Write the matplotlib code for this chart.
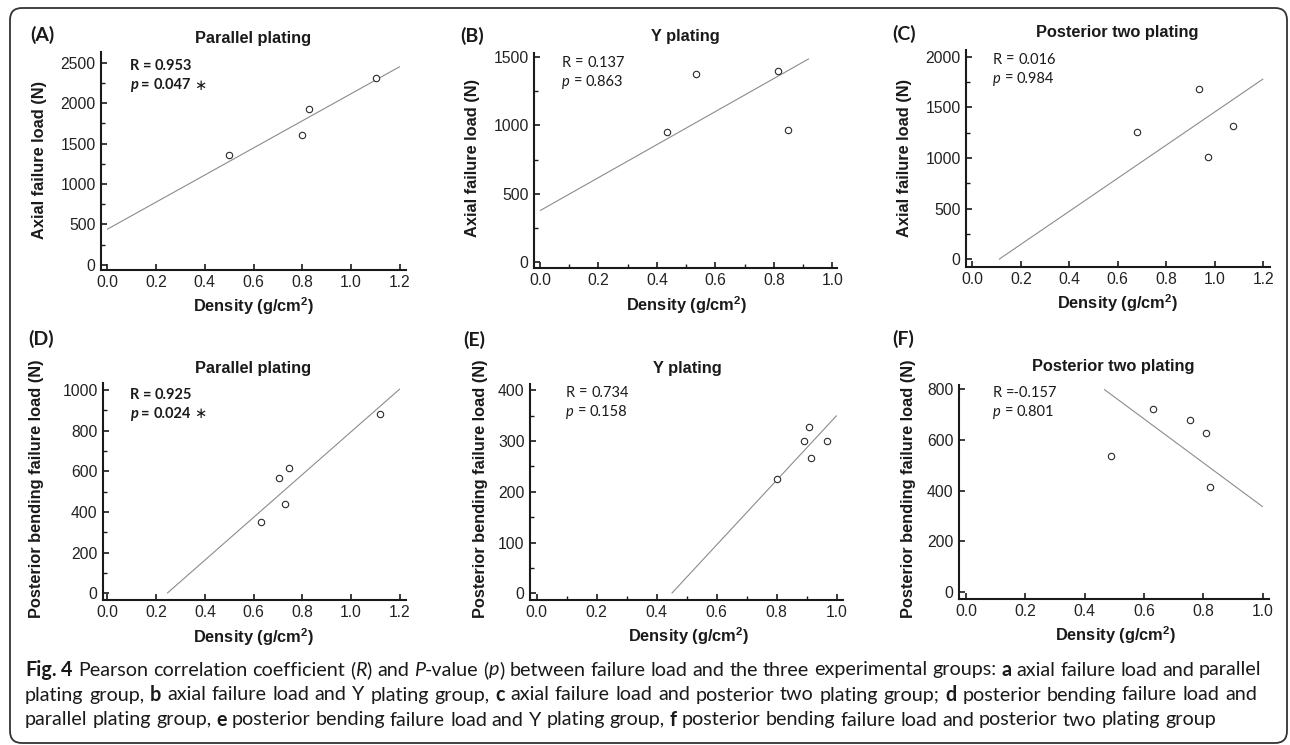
import matplotlib
matplotlib.use("Agg")
import matplotlib.pyplot as plt
from matplotlib.patches import FancyBboxPatch
from matplotlib.transforms import IdentityTransform
from matplotlib.ticker import FixedLocator, NullLocator

W, H, DPI = 1290, 745, 100

# ------------------------------------------------------------------ data
panel_labels = ["(A)", "(B)", "(C)", "(D)", "(E)", "(F)"]
titles = ["Parallel plating", "Y plating", "Posterior two plating",
          "Parallel plating", "Y plating", "Posterior two plating"]
ylabels = ["Axial failure load (N)"] * 3 + ["Posterior bending failure load (N)"] * 3
xlabel = r"Density (g/cm$^\mathbf{2}$)"

a_density = [0.50, 0.80, 0.828, 1.10]
a_load = [1352, 1601, 1920, 2312]
a_fit_x = [0.0, 1.2]
a_fit_y = [440, 2450]

b_density = [0.436, 0.534, 0.813, 0.850]
b_load = [955, 1378, 1400, 968]
b_fit_x = [0.0, 0.92]
b_fit_y = [375, 1490]

c_density = [0.678, 0.934, 0.971, 1.074]
c_load = [1257, 1676, 1006, 1315]
c_fit_x = [0.11, 1.2]
c_fit_y = [0, 1780]

d_density = [0.630, 0.705, 0.727, 0.746, 1.117]
d_load = [351, 568, 437, 617, 882]
d_fit_x = [0.245, 1.2]
d_fit_y = [0, 1005]

e_density = [0.802, 0.892, 0.909, 0.914, 0.967]
e_load = [226, 300, 327, 266, 300]
e_fit_x = [0.45, 1.0]
e_fit_y = [0, 350]

f_density = [0.488, 0.629, 0.755, 0.808, 0.822]
f_load = [538, 722, 678, 628, 413]
f_fit_x = [0.465, 1.0]
f_fit_y = [800, 336]

r_texts = ["R = 0.953", "R = 0.137", "R = 0.016", "R = 0.925", "R = 0.734", "R =-0.157"]
p_values = ["0.047", "0.863", "0.984", "0.024", "0.158", "0.801"]
significant = [True, False, False, True, False, False]

x_ticks_12 = [0.0, 0.2, 0.4, 0.6, 0.8, 1.0, 1.2]
x_ticks_10 = [0.0, 0.2, 0.4, 0.6, 0.8, 1.0]
x_minor_10 = [0.1, 0.3, 0.5, 0.7, 0.9]
a_yticks = [0, 500, 1000, 1500, 2000, 2500]
a_yminor = [250, 750, 1250, 1750, 2250]
b_yticks = [0, 500, 1000, 1500]
b_yminor = [250, 750, 1250]
c_yticks = [0, 500, 1000, 1500, 2000]
c_yminor = [250, 750, 1250, 1750]
d_yticks = [0, 200, 400, 600, 800, 1000]
d_yminor = [100, 300, 500, 700, 900]
e_yticks = [0, 100, 200, 300, 400]
e_yminor = [50, 150, 250, 350]
f_yticks = [0, 200, 400, 600, 800]

caption_lines = [
    [("Fig. 4", "b"), (" Pearson correlation coefficient (", "r"), ("R", "i"), (") and ", "r"),
     ("P", "i"), ("-value (", "r"), ("p", "i"),
     (") between failure load and the three experimental groups: ", "r"), ("a", "b"),
     (" axial failure load and parallel", "r")],
    [("plating group, ", "r"), ("b", "b"), (" axial failure load and Y plating group, ", "r"),
     ("c", "b"), (" axial failure load and posterior two plating group; ", "r"), ("d", "b"),
     (" posterior bending failure load and", "r")],
    [("parallel plating group, ", "r"), ("e", "b"),
     (" posterior bending failure load and Y plating group, ", "r"), ("f", "b"),
     (" posterior bending failure load and posterior two plating group", "r")],
]

# ------------------------------------------------------------------ styling / layout
plt.rcParams["mathtext.fontset"] = "custom"
plt.rcParams["mathtext.rm"] = "Liberation Sans"
plt.rcParams["mathtext.bf"] = "Liberation Sans:bold"
plt.rcParams["mathtext.it"] = "Liberation Sans:italic"

ARIAL = "Liberation Sans"
CAL = "Lato"
INK = "#1a1a1a"

series = [(a_density, a_load, a_fit_x, a_fit_y), (b_density, b_load, b_fit_x, b_fit_y),
          (c_density, c_load, c_fit_x, c_fit_y), (d_density, d_load, d_fit_x, d_fit_y),
          (e_density, e_load, e_fit_x, e_fit_y), (f_density, f_load, f_fit_x, f_fit_y)]
ticks = [(x_ticks_12, None, a_yticks, a_yminor), (x_ticks_10, x_minor_10, b_yticks, b_yminor),
         (x_ticks_12, None, c_yticks, c_yminor), (x_ticks_12, None, d_yticks, d_yminor),
         (x_ticks_10, x_minor_10, e_yticks, e_yminor), (x_ticks_10, None, f_yticks, None)]

# layout in pixels: axes box (left, right, top, bottom), limits, text anchors
layout = [
    dict(box=(101, 406, 52, 270), xlim=(-0.025, 1.225), ylim=(-62, 2630),
         label=(30, 35), title=(253, 38), xl=(253, 306), yl=(40, 160), ann=(130, 66)),
    dict(box=(534, 837, 53, 268), xlim=(-0.0205, 1.016), ylim=(-46, 1532),
         label=(460, 36), title=(685, 37), xl=(686, 305), yl=(473, 158), ann=(562, 63)),
    dict(box=(966, 1270, 50, 267), xlim=(-0.026, 1.228), ylim=(-76, 2065),
         label=(892, 34), title=(1117, 33), xl=(1117, 303), yl=(904, 158), ann=(993, 60)),
    dict(box=(103, 406, 383, 600), xlim=(-0.018, 1.225), ylim=(-33, 1034),
         label=(28, 339), title=(253, 368), xl=(253, 637), yl=(37, 489), ann=(130, 395)),
    dict(box=(530, 843, 384, 600), xlim=(-0.022, 1.021), ylim=(-13, 412),
         label=(463, 340), title=(687, 368), xl=(688, 636), yl=(480, 489), ann=(566, 393)),
    dict(box=(959, 1269, 385, 599), xlim=(-0.024, 1.021), ylim=(-28, 817),
         label=(892, 339), title=(1113, 367), xl=(1115, 635), yl=(908, 489), ann=(993, 393)),
]

fig = plt.figure(figsize=(W / DPI, H / DPI), dpi=DPI)
fig.patch.set_facecolor("white")
renderer = fig.canvas.get_renderer()


def fx(px):
    return px / W


def fy(py):
    return 1 - py / H


_cache = {}


def text_width(s, size, props):
    key = (s, size, tuple(sorted(props.items())))
    if key not in _cache:
        t = fig.text(0, 0, "x" + s + "x", fontsize=size, **props)
        w1 = t.get_window_extent(renderer).width
        t.set_text("xx")
        w2 = t.get_window_extent(renderer).width
        t.remove()
        _cache[key] = w1 - w2
    return _cache[key]


def style_props(code, family):
    if code == "b":
        return dict(family=family, fontweight="bold")
    if code == "i":
        return dict(family=family, fontstyle="italic")
    if code == "s":
        return dict(family="DejaVu Sans")
    return dict(family=family)


def draw_runs(x, y, runs, size, family, color=INK, right=None):
    tokens = []
    for text, code in runs:
        props = style_props(code, family)
        parts = text.split(" ")
        for k, part in enumerate(parts):
            if k > 0:
                tokens.append((" ", props))
            if part:
                tokens.append((part, props))
    widths = [text_width(s, size, p) for s, p in tokens]
    extra = 0.0
    nsp = sum(1 for s, _ in tokens if s == " ")
    if right is not None and nsp:
        extra = (right - x - sum(widths)) / nsp
    cur = x
    for (s, p), w in zip(tokens, widths):
        if s == " ":
            cur += w + extra
            continue
        fig.text(fx(cur), fy(y), s, fontsize=size, va="center", ha="left", color=color, **p)
        cur += w


for i in range(6):
    cfg = layout[i]
    dens, load, fitx, fity = series[i]
    xt, xm, yt, ym = ticks[i]
    l, r, t, b = cfg["box"]
    ax = fig.add_axes([fx(l), fy(b), (r - l) / W, (b - t) / H])
    ax.patch.set_alpha(0)
    ax.plot(fitx, fity, color="#8c8c8c", lw=0.8, solid_capstyle="butt")
    ax.plot(dens, load, "o", mfc="white", mec="#2a2a2a", ms=4.6, mew=0.8, clip_on=False)
    ax.set_xlim(*cfg["xlim"])
    ax.set_ylim(*cfg["ylim"])
    ax.xaxis.set_major_locator(FixedLocator(xt))
    ax.set_xticklabels([f"{v:.1f}" for v in xt])
    ax.yaxis.set_major_locator(FixedLocator(yt))
    ax.set_yticklabels([f"{v:d}" for v in yt])
    ax.xaxis.set_minor_locator(FixedLocator(xm) if xm else NullLocator())
    ax.yaxis.set_minor_locator(FixedLocator(ym) if ym else NullLocator())
    for side in ("top", "right"):
        ax.spines[side].set_visible(False)
    for side in ("left", "bottom"):
        ax.spines[side].set_linewidth(1.5)
        ax.spines[side].set_color(INK)
    ax.tick_params(which="major", direction="in", length=4.5, width=1.2, color=INK,
                   labelsize=11.3, labelcolor="#222222", pad=3.8)
    ax.tick_params(which="minor", direction="in", length=2.6, width=1.0, color=INK)
    for lab in ax.get_xticklabels() + ax.get_yticklabels():
        lab.set_family(ARIAL)

    # texts
    fig.text(fx(cfg["label"][0]), fy(cfg["label"][1]), panel_labels[i], family=CAL,
             fontweight="bold", fontsize=14, ha="left", va="center", color=INK)
    fig.text(fx(cfg["title"][0]), fy(cfg["title"][1]), titles[i], family=ARIAL,
             fontweight="bold", fontsize=11.8, ha="center", va="center", color=INK)
    fig.text(fx(cfg["xl"][0]), fy(cfg["xl"][1]), xlabel, family=ARIAL, fontweight="bold",
             fontsize=11.8, ha="center", va="center", color=INK)
    fig.text(fx(cfg["yl"][0]), fy(cfg["yl"][1]), ylabels[i], family=ARIAL, fontweight="bold",
             fontsize=11.8, ha="center", va="center", rotation=90, color=INK)

    code = "b" if significant[i] else "r"
    ax_, ay_ = cfg["ann"]
    draw_runs(ax_, ay_, [(r_texts[i], code)], 10.5, CAL)
    p_runs = [("p", "i" if not significant[i] else "bi"), (" = " + p_values[i], code)]
    if significant[i]:
        p_runs = [("p", "bi"), (" = " + p_values[i] + " ", "b"), ("\u2217", "s")]
    # bold-italic p
    tokens_y = ay_ + 19
    cur = ax_
    if significant[i]:
        fig.text(fx(cur), fy(tokens_y), "p", family=CAL, fontweight="bold", fontstyle="italic",
                 fontsize=10.5, va="center", ha="left", color=INK)
        cur += text_width("p", 10.5, dict(family=CAL, fontweight="bold", fontstyle="italic"))
        draw_runs(cur, tokens_y, [(" = " + p_values[i] + " ", "b"), ("\u2217", "s")], 10.5, CAL)
    else:
        fig.text(fx(cur), fy(tokens_y), "p", family=CAL, fontstyle="italic",
                 fontsize=10.5, va="center", ha="left", color=INK)
        cur += text_width("p", 10.5, dict(family=CAL, fontstyle="italic"))
        draw_runs(cur, tokens_y, [(" = " + p_values[i], "r")], 10.5, CAL)

# caption
cap_x = 25
cap_right = 1262
cap_ys = [670, 695, 720]
base = 12.0
nat = sum(text_width(s, base, style_props(c, CAL)) for s, c in caption_lines[0])
cap_size = base * (cap_right - cap_x) / nat
for k, line in enumerate(caption_lines):
    draw_runs(cap_x, cap_ys[k], line, cap_size, CAL,
              right=cap_right - 5 if k == 1 else None)

# rounded frame
frame = FancyBboxPatch((10, H - 743), 1277, 735, boxstyle="round,pad=0,rounding_size=12",
                       transform=IdentityTransform(), fill=False, lw=1.3, ec="#333333")
fig.add_artist(frame)

fig.savefig("out.png", dpi=DPI, facecolor="white")
